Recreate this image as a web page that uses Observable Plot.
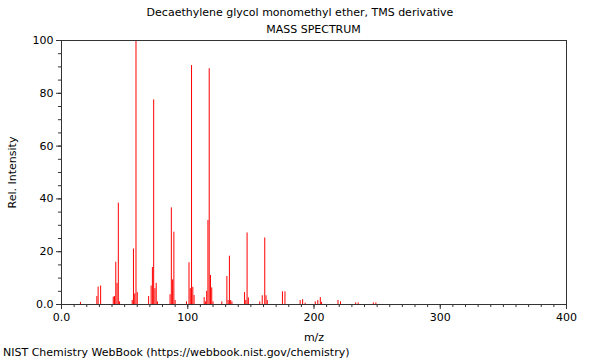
<!DOCTYPE html>
<html>
<head>
<meta charset="utf-8">
<script src="https://cdn.jsdelivr.net/npm/d3@7"></script>
<script src="https://cdn.jsdelivr.net/npm/@observablehq/plot@0.6"></script>
<style>
  html, body { margin: 0; padding: 0; background: #fff; }
  #wrap { position: relative; width: 600px; height: 360px; font-family: "DejaVu Sans", sans-serif; color: #000; }
  .t { position: absolute; font-size: 11px; white-space: nowrap; }
  #title { left: 0; width: 600px; text-align: center; top: 6px; }
  #subtitle { left: 0; width: 627px; text-align: center; top: 23px; }
  #caption { left: 3px; top: 346px; }
  svg { position: absolute; left: 0; top: 0; }
</style>
</head>
<body>
<div id="wrap">
  <div class="t" id="title">Decaethylene glycol monomethyl ether, TMS derivative</div>
  <div class="t" id="subtitle">MASS SPECTRUM</div>
  <div class="t" id="caption">NIST Chemistry WebBook (https://webbook.nist.gov/chemistry)</div>
</div>
<script>
const mz = [15, 28, 29, 31, 41, 42, 43, 44, 45, 46, 56, 57, 58, 59, 60, 69, 71, 72, 73, 74, 75, 76, 86, 87, 88, 89, 90, 99, 101, 102, 103, 104, 105, 113, 114, 115, 116, 117, 118, 119, 120, 127, 131, 132, 133, 134, 135, 145, 146, 147, 148, 157, 159, 161, 162, 163, 175, 177, 189, 191, 193, 201, 203, 205, 206, 219, 221, 233, 235, 247, 249];
const intensity = [0.8, 3, 6.6, 7, 2.8, 3, 16, 8, 38.4, 1, 1.5, 21, 4, 100, 4.5, 3, 7, 14, 77.5, 6, 8, 1, 3.7, 36.6, 9.3, 27.4, 1.5, 1, 15.8, 6, 90.5, 6.5, 3.4, 2.6, 1, 5, 31.8, 89.3, 11, 6.3, 1, 1, 10.6, 1.5, 18.3, 1.5, 1, 4.5, 1.5, 27.1, 2.5, 1, 3.3, 25.2, 3.3, 1.5, 4.8, 4.8, 1.5, 1.8, 0.5, 1, 1.5, 2.6, 0.8, 1.5, 1, 0.6, 0.6, 0.6, 0.6];
const xMajor = [0, 100, 200, 300, 400];
const xLabels = ["0.0", "100", "200", "300", "400"];
const yMajor = [0, 20, 40, 60, 80, 100];
const yLabels = ["0.0", "20", "40", "60", "80", "100"];
const xMinor = d3.range(0, 401, 10);
const yMinor = d3.range(0, 101, 5);

const peaks = mz.map((m, i) => ({mz: m, intensity: intensity[i]}));

const chart = Plot.plot({
  width: 600,
  height: 360,
  marginLeft: 61,
  marginRight: 34,
  marginTop: 40,
  marginBottom: 56,
  style: {fontFamily: "DejaVu Sans, sans-serif", fontSize: "11px", color: "#000", background: "transparent"},
  x: {domain: [0, 400]},
  y: {domain: [0, 100]},
  marks: [
    Plot.ruleX(peaks, {x: "mz", y1: 0, y2: "intensity", stroke: "#ff0000", strokeWidth: 1}),
    Plot.axisX(xMinor, {tickSize: 3, tickFormat: () => "", label: null, stroke: "#333"}),
    Plot.axisX(xMajor, {tickSize: 5, tickFormat: (d, i) => xLabels[xMajor.indexOf(d)], tickPadding: 4, label: "m/z", labelAnchor: "center", labelArrow: "none", labelOffset: 36, stroke: "#333"}),
    Plot.axisY(yMinor, {tickSize: 3, tickFormat: () => "", label: null, stroke: "#333"}),
    Plot.axisY(yMajor, {tickSize: 5, tickFormat: (d) => yLabels[yMajor.indexOf(d)], tickPadding: 3, label: "Rel. Intensity", labelAnchor: "center", labelArrow: "none", labelOffset: 53, stroke: "#333"}),
    Plot.frame({stroke: "#333"})
  ]
});
document.getElementById("wrap").appendChild(chart);
</script>
</body>
</html>
